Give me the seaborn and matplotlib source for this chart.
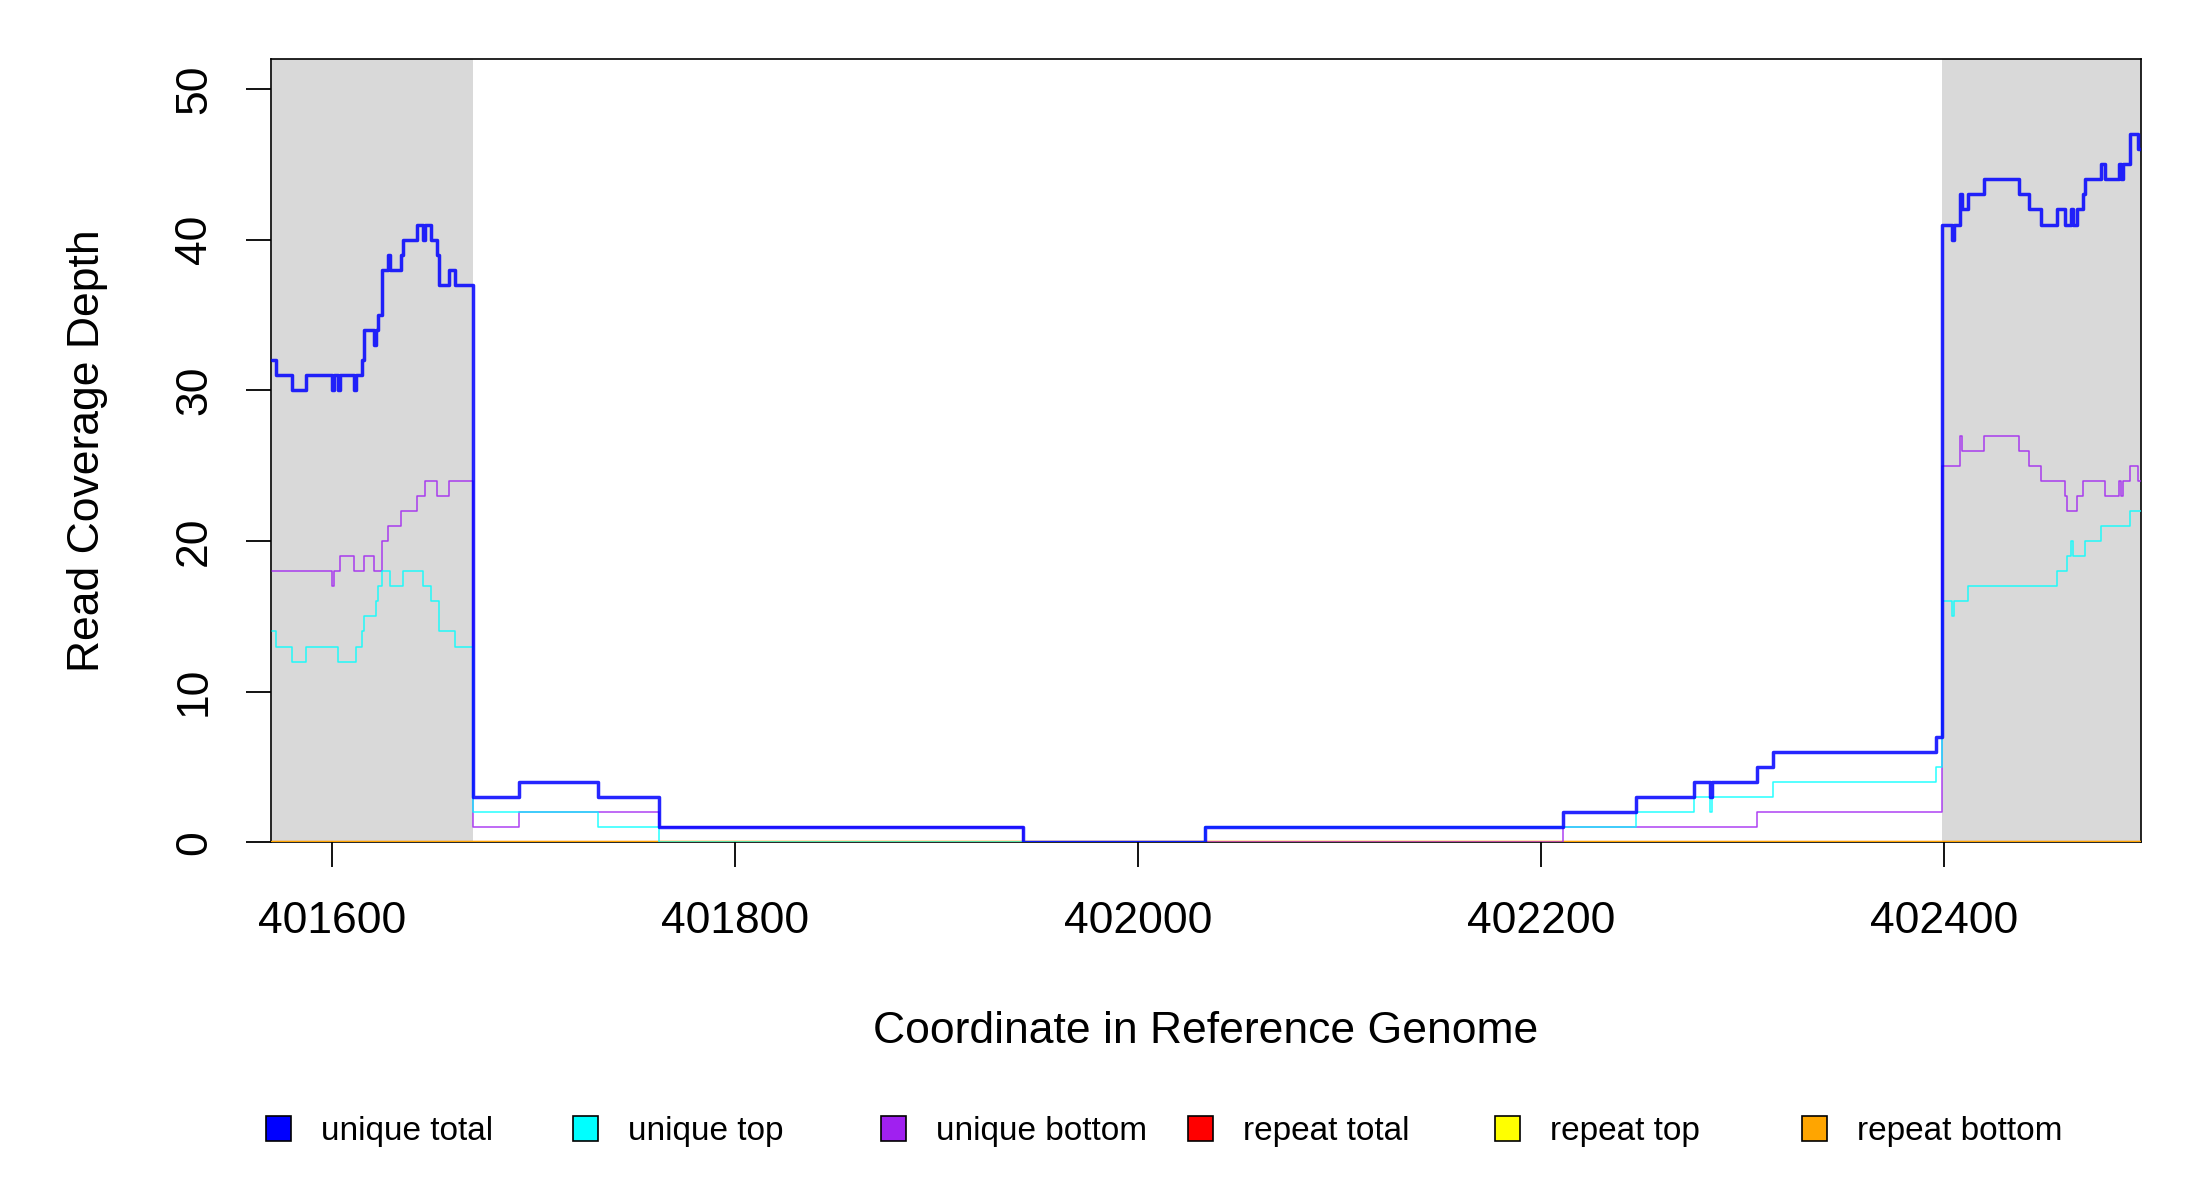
import matplotlib
matplotlib.use("Agg")
import pandas as pd
import matplotlib.pyplot as plt
import seaborn as sns
from matplotlib.patches import Patch

# =====================================================
# DATA (step breakpoints: position where depth changes)
# =====================================================

REGION_START = 401570
REGION_END = 402498

total_pos = [401570, 401572, 401580, 401587, 401600, 401601, 401603, 401604,
             401611, 401612, 401615, 401616, 401621, 401622, 401623, 401625,
             401628, 401629, 401634, 401635, 401642, 401645, 401646, 401649,
             401652, 401653, 401658, 401661, 401670, 401693, 401732, 401762,
             401943, 402033, 402211, 402247, 402276, 402284, 402285, 402307,
             402315, 402396, 402399, 402404, 402405, 402408, 402409, 402412,
             402420, 402437, 402442, 402448, 402456, 402460, 402463, 402464,
             402466, 402469, 402470, 402478, 402480, 402487, 402488, 402489,
             402492, 402496, 402498]
total_depth = [32, 31, 30, 31, 30, 31, 30, 31,
               30, 31, 32, 34, 33, 34, 35, 38,
               39, 38, 39, 40, 41, 40, 41, 40,
               39, 37, 38, 37, 3, 4, 3, 1,
               0, 1, 2, 3, 4, 3, 4, 5,
               6, 7, 41, 40, 41, 43, 42, 43,
               44, 43, 42, 41, 42, 41, 42, 41,
               42, 43, 44, 45, 44, 45, 44, 45,
               47, 46, 46]

top_pos = [401570, 401572, 401580, 401587, 401603, 401612, 401615, 401616,
           401622, 401623, 401625, 401629, 401635, 401645, 401649, 401653,
           401661, 401670, 401732, 401762, 402033, 402247, 402276, 402284,
           402285, 402315, 402396, 402399, 402404, 402405, 402412, 402456,
           402461, 402463, 402464, 402470, 402478, 402492, 402498]
top_depth = [14, 13, 12, 13, 12, 13, 14, 15,
             16, 17, 18, 17, 18, 17, 16, 14,
             13, 2, 1, 0, 1, 2, 3, 2,
             3, 4, 5, 16, 15, 16, 17, 18,
             19, 20, 19, 20, 21, 22, 22]

bottom_pos = [401570, 401600, 401601, 401604, 401611, 401616, 401621, 401625,
              401628, 401634, 401642, 401646, 401652, 401658, 401670, 401693,
              401762, 401943, 402211, 402307, 402399, 402408, 402409, 402420,
              402437, 402442, 402448, 402460, 402461, 402466, 402469, 402480,
              402487, 402488, 402489, 402492, 402496, 402498]
bottom_depth = [18, 17, 18, 19, 18, 19, 18, 20,
                21, 22, 23, 24, 23, 24, 1, 2,
                1, 0, 1, 2, 25, 27, 26, 27,
                26, 25, 24, 23, 22, 23, 24, 23,
                24, 23, 24, 25, 24, 24]

repeat_pos = [REGION_START, REGION_END]
repeat_total = [0, 0]
repeat_top = [0, 0]
repeat_bottom = [0, 0]

flank_starts = [401570, 402399]
flank_ends = [401670, 402498]

series_labels = ["unique total", "unique top", "unique bottom",
                 "repeat total", "repeat top", "repeat bottom"]
series_colors = ["#0000ff", "#00ffff", "#a020f0",
                 "#ff0000", "#ffff00", "#ffa500"]

x_ticks = [401600, 401800, 402000, 402200, 402400]
y_ticks = [0, 10, 20, 30, 40, 50]

# =====================================================
# LONG TABLE
# =====================================================

series_data = {
    "unique total": (total_pos, total_depth),
    "unique top": (top_pos, top_depth),
    "unique bottom": (bottom_pos, bottom_depth),
    "repeat total": (repeat_pos, repeat_total),
    "repeat top": (repeat_pos, repeat_top),
    "repeat bottom": (repeat_pos, repeat_bottom),
}

rows = []
for name, (pos, depth) in series_data.items():
    for p, d in zip(pos, depth):
        rows.append({"series": name, "pos": p, "depth": d})
df = pd.DataFrame(rows)

# =====================================================
# PLOT
# =====================================================

sns.set_style("white")
plt.rcParams["font.family"] = ["Liberation Sans", "DejaVu Sans"]
plt.rcParams["text.color"] = "black"
plt.rcParams["axes.labelcolor"] = "black"
plt.rcParams["xtick.color"] = "black"
plt.rcParams["ytick.color"] = "black"

fig = plt.figure(figsize=(22, 12), dpi=100)
ax = fig.add_axes([0.123, 0.298, 0.850, 0.653])

for s, e in zip(flank_starts, flank_ends):
    ax.axvspan(s, e, color="#d9d9d9", lw=0, zorder=0)

# repeats first, unique series drawn over them
draw_order = ["repeat total", "repeat top", "repeat bottom",
              "unique bottom", "unique top", "unique total"]
widths = {"unique total": 2.5}

for name in draw_order:
    sub = df[df["series"] == name]
    color = series_colors[series_labels.index(name)]
    is_repeat = name.startswith("repeat")
    sns.lineplot(
        data=sub, x="pos", y="depth",
        drawstyle="steps-post",
        estimator=None, sort=False,
        color=color,
        lw=1.6 if is_repeat else widths.get(name, 1.1),
        alpha=1.0 if is_repeat else 0.85,
        zorder=3,
        ax=ax,
        legend=False,
    )

ax.set_xlim(REGION_START - 0.5, REGION_END - 0.5)
ax.set_ylim(0, 52)

ax.set_xticks(x_ticks)
ax.set_xticklabels([str(t) for t in x_ticks])
ax.set_yticks(y_ticks)
ax.set_yticklabels([str(t) for t in y_ticks], rotation=90, va="center")

ax.tick_params(axis="both", which="major", length=18, width=1.3,
               color="black", labelcolor="black", labelsize=32,
               direction="out")
ax.tick_params(axis="x", pad=24)
ax.tick_params(axis="y", pad=22)
ax.xaxis.set_ticks_position("bottom")
ax.yaxis.set_ticks_position("left")

for spine in ax.spines.values():
    spine.set_visible(True)
    spine.set_color("black")
    spine.set_linewidth(1.2)
    spine.set_zorder(2)

ax.set_xlabel("Coordinate in Reference Genome", fontsize=32, va="center",
              color="black")
ax.set_ylabel("Read Coverage Depth", fontsize=32, va="center",
              color="black")
ax.xaxis.set_label_coords(0.5, -0.241)
ax.yaxis.set_label_coords(-0.098, 0.5)

# legend: one entry per slot, evenly spaced like the reference
legend_x = [266, 573, 881, 1188, 1495, 1802]
for lab, col, x0 in zip(series_labels, series_colors, legend_x):
    fig.legend(
        handles=[Patch(facecolor=col, edgecolor="black", linewidth=1.2)],
        labels=[lab],
        loc="center left",
        bbox_to_anchor=(x0 / 2200, 0.057),
        frameon=False,
        fontsize=24,
        handlelength=0.75,
        handleheight=0.75,
        handletextpad=0.9,
        borderpad=0,
        borderaxespad=0,
        labelcolor="black",
    )

fig.savefig("out.png", dpi=100)
plt.close(fig)
